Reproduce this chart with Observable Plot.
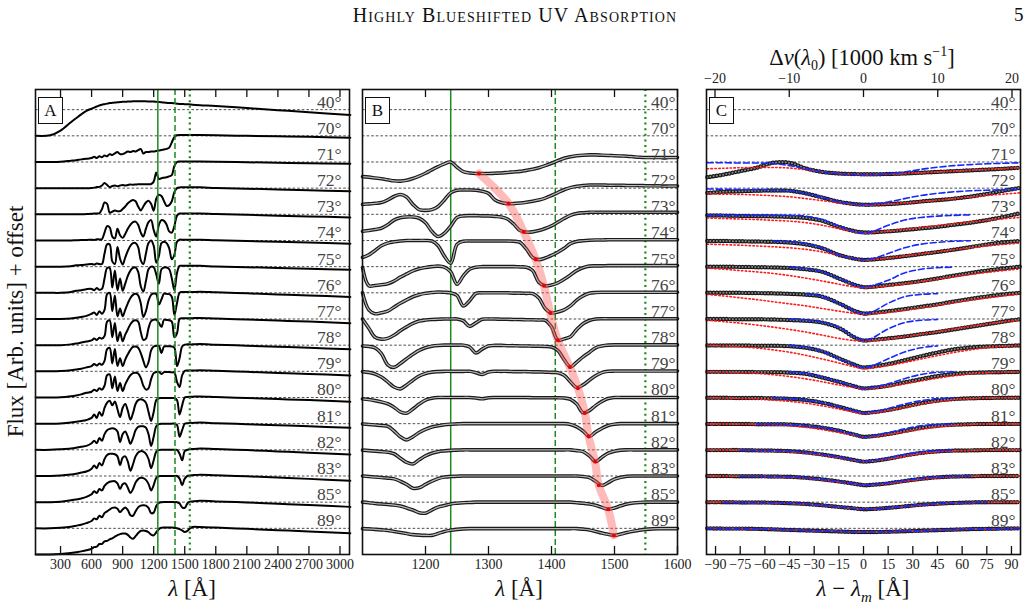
<!DOCTYPE html>
<html>
<head>
<meta charset="utf-8">
<script src="https://cdn.jsdelivr.net/npm/d3@7"></script>
<script src="https://cdn.jsdelivr.net/npm/@observablehq/plot@0.6"></script>
<style>
  body { margin: 0; background: #fff; }
  #fig { position: relative; width: 1030px; height: 612px; overflow: hidden;
         font-family: "Liberation Serif", "DejaVu Serif", serif; color: #111; }
  #fig svg { position: absolute; top: 0; }
  .t { position: absolute; white-space: nowrap; line-height: 1; }
  .box { position: absolute; top: 97px; width: 23px; height: 25px; border: 1.4px solid #111;
         background: #fff; font-size: 17px; line-height: 25px; text-align: center; }
</style>
</head>
<body>
<div id="fig"></div>
<script>
// Viewing angles, one spectrum per angle (top to bottom)
const angles = [40, 70, 71, 72, 73, 74, 75, 76, 77, 78, 79, 80, 81, 82, 83, 85, 89];

// Reference lines: N V, Si IV, C IV rest wavelengths [Å]
const refLam = [1240, 1406, 1549];

// ---- Panel A: full UV spectra, flux normalised to the red continuum ----
const gridA = [60,200,300,400,450,500,550,600,625,650,675,700,725,750,775,800,825,850,875,900,925,950,975,1000,1025,1050,1075,1100,1125,1150,1175,1200,1225,1250,1275,1300,1325,1350,1375,1400,1425,1450,1475,1500,1525,1550,1575,1650,1800,2100,2400,2700,3100];
const specA = [
  [0,0.02,0.2,0.52,0.67,0.82,0.95, 1.04,1.08,1.12,1.16,1.19,1.21,1.23,1.25,1.26,1.27, 1.28,1.29,1.3,1.3,1.31,1.31,1.32,1.32,1.32,1.32, 1.32,1.32,1.31,1.31,1.31,1.3,1.29,1.28,1.27,1.26, 1.25,1.25,1.24,1.23,1.22,1.22,1.21,1.21,1.2,1.19, 1.17,1.14,1.06,0.98,0.9,0.8],
  [0,0,0.01,0.05,0.07,0.1,0.12, 0.15,0.2,0.15,0.22,0.18,0.25,0.22,0.3,0.27,0.33, 0.38,0.3,0.3,0.35,0.4,0.38,0.42,0.4,0.45,0.5, 0.32,0.38,0.38,0.4,0.4,0.42,0.44,0.46,0.48,0.5, 0.55,0.75,0.95,1.02,1.03,1.03,1.03,1.03,1.03,1.03, 1.03,1.02,1.0,0.98,0.96,0.93],
  [0,0,0,0,0,0,0, 0.01,0.02,0.04,0.05,0.1,0.2,0.12,0.04,0.08,0.1, 0.07,0.1,0.12,0.1,0.12,0.14,0.13,0.14,0.15,0.15, 0.15,0.15,0.15,0.16,0.25,0.6,0.35,0.38,0.4,0.42, 0.45,0.5,0.85,1.0,1.02,1.02,1.02,1.02,1.02,1.02, 1.02,1.01,0.99,0.97,0.95,0.93],
  [0,0,0,0,0,0,0.01, 0.02,0.03,0.03,0.04,0.2,0.45,0.4,0.06,0.1,0.15, 0.12,0.12,0.2,0.3,0.42,0.5,0.55,0.5,0.3,0.15, 0.3,0.45,0.52,0.4,0.14,0.6,0.75,0.7,0.5,0.32, 0.35,0.5,0.85,1.0,1.03,1.03,1.03,1.03,1.03,1.03, 1.03,1.01,0.98,0.95,0.92,0.88],
  [0,0,0,0,0.01,0.02,0.02, 0.03,0.02,0.05,0.04,0.05,0.3,0.55,0.5,0.15,0.08, 0.45,0.2,0.1,0.25,0.45,0.6,0.7,0.72,0.6,0.3, 0.15,0.45,0.7,0.78,0.4,0.15,0.6,0.78,0.75,0.6, 0.35,0.3,0.55,0.95,1.03,1.03,1.03,1.03,1.03,1.03, 1.03,1.01,0.98,0.95,0.92,0.88],
  [0,0,0,0.02,0.05,0.06,0.08, 0.1,0.08,0.12,0.1,0.1,0.5,0.85,0.85,0.2,0.1, 0.75,0.3,0.08,0.35,0.6,0.8,0.9,0.9,0.75,0.25, 0.1,0.5,0.9,1.0,0.8,0.15,0.4,0.9,0.95,0.9, 0.7,0.28,0.45,0.95,1.03,1.03,1.03,1.03,1.03,1.03, 1.03,1.01,0.98,0.95,0.92,0.88],
  [0,0,0,0.03,0.08,0.1,0.14, 0.15,0.1,0.18,0.12,0.15,0.55,0.95,0.95,0.2,0.85, 0.1,0.55,0.08,0.35,0.65,0.85,0.95,0.97,0.8,0.25, 0.05,0.45,0.9,1.0,0.98,0.7,0.35,0.9,0.97,0.97, 0.9,0.55,0.1,0.75,1.03,1.03,1.03,1.03,1.03,1.03, 1.03,1.01,0.98,0.95,0.92,0.88],
  [0,0,0,0.02,0.05,0.08,0.12, 0.2,0.25,0.15,0.3,0.2,0.35,0.95,1.0,0.3,0.9, 0.1,0.4,0.1,0.35,0.6,0.8,0.92,0.96,0.9,0.6, 0.08,0.3,0.7,0.92,0.97,0.95,0.55,0.75,0.97,0.96, 0.95,0.85,0.15,0.6,1.0,1.03,1.03,1.03,1.03,1.03, 1.04,1.02,0.98,0.94,0.9,0.84],
  [0,0,0,0.03,0.06,0.1,0.14, 0.18,0.25,0.2,0.28,0.25,0.35,0.9,0.95,0.3,0.85, 0.15,0.5,0.15,0.4,0.6,0.8,0.92,0.95,0.9,0.5, 0.2,0.25,0.65,0.92,0.97,0.97,0.85,0.7,0.97,0.96, 0.95,0.9,0.3,0.45,1.0,1.03,1.03,1.03,1.03,1.03, 1.04,1.02,0.98,0.94,0.9,0.84],
  [0,0,0.01,0.04,0.07,0.1,0.15, 0.2,0.28,0.22,0.3,0.25,0.4,0.85,0.9,0.3,0.85, 0.2,0.5,0.2,0.45,0.65,0.82,0.93,0.95,0.9,0.7, 0.4,0.15,0.35,0.8,0.95,0.97,0.97,0.7,0.95,0.96, 0.96,0.95,0.9,0.2,0.5,0.95,1.02,1.03,1.03,1.03, 1.04,1.02,0.98,0.94,0.9,0.84],
  [0,0,0.01,0.05,0.08,0.12,0.18, 0.22,0.3,0.25,0.35,0.3,0.45,0.85,0.88,0.35,0.8, 0.25,0.55,0.25,0.5,0.7,0.85,0.93,0.95,0.92,0.75, 0.45,0.3,0.35,0.7,0.93,0.97,0.98,0.9,0.97,0.97, 0.97,0.96,0.95,0.6,0.4,0.85,1.02,1.03,1.03,1.03, 1.04,1.02,0.98,0.94,0.9,0.84],
  [0,0,0.01,0.04,0.07,0.1,0.14, 0.22,0.35,0.22,0.45,0.3,0.6,0.8,0.88,0.7,0.85, 0.55,0.25,0.6,0.75,0.5,0.15,0.4,0.75,0.9,0.93, 0.9,0.8,0.45,0.1,0.45,0.9,0.97,0.98,0.98,0.98, 0.98,0.98,0.98,0.9,0.35,0.7,1.0,1.02,1.03,1.03, 1.04,1.02,0.98,0.94,0.9,0.84],
  [0,0,0.02,0.05,0.08,0.12,0.15, 0.25,0.35,0.25,0.45,0.35,0.6,0.75,0.8,0.82,0.8, 0.7,0.3,0.6,0.7,0.5,0.23,0.45,0.75,0.88,0.9, 0.9,0.85,0.6,0.15,0.5,0.9,0.98,1.0,1.0,1.0, 1.0,1.0,1.0,0.95,0.5,0.75,1.0,1.02,1.03,1.03, 1.04,1.02,0.98,0.94,0.9,0.84],
  [0,0,0.02,0.06,0.09,0.13,0.17, 0.28,0.4,0.3,0.5,0.4,0.65,0.8,0.85,0.85,0.83, 0.75,0.42,0.7,0.75,0.55,0.2,0.45,0.75,0.9,0.95, 0.93,0.85,0.65,0.3,0.6,0.93,0.99,1.0,1.0,1.0, 1.0,1.0,1.0,1.0,0.85,0.6,0.95,1.0,1.02,1.03, 1.05,1.03,0.99,0.94,0.89,0.82],
  [0,0,0.02,0.07,0.1,0.14,0.2, 0.3,0.42,0.35,0.5,0.45,0.62,0.72,0.78,0.8,0.8, 0.72,0.5,0.68,0.72,0.55,0.35,0.5,0.75,0.88,0.93, 0.92,0.85,0.7,0.45,0.65,0.93,0.99,1.0,1.0,1.0, 1.0,1.0,1.0,1.0,0.9,0.65,0.9,1.0,1.02,1.03, 1.05,1.03,0.99,0.94,0.89,0.82],
  [0,0,0.02,0.06,0.1,0.14,0.2, 0.28,0.38,0.35,0.48,0.42,0.58,0.65,0.72,0.78,0.8, 0.75,0.62,0.72,0.8,0.7,0.5,0.48,0.65,0.8,0.87, 0.88,0.87,0.78,0.58,0.6,0.85,0.97,1.0,1.01,1.01, 1.01,1.01,1.0,1.0,0.95,0.8,0.78,0.95,1.02,1.03, 1.05,1.03,0.99,0.94,0.89,0.82],
  [0,0,0.02,0.06,0.09,0.12,0.16, 0.22,0.28,0.3,0.4,0.4,0.5,0.52,0.58,0.62,0.68, 0.74,0.78,0.8,0.8,0.75,0.65,0.6,0.7,0.82,0.9, 0.92,0.9,0.85,0.76,0.73,0.85,0.97,1.02,1.03,1.03, 1.03,1.03,1.02,1.0,0.97,0.92,0.86,0.9,1.0,1.05, 1.05,1.03,0.98,0.93,0.88,0.81]
];
const ticksA = [300,600,900,1200,1500,1800,2100,2400,2700,3000];

// ---- Panel B: zoom on the 1100-1600 Å region, 71°-89° ----
const gridB = [1100,1110,1120,1130,1140,1150,1160,1170,1180,1190,1200,1210,1220,1230,1240,1250,1260,1270,1280,1290,1300,1310,1320,1330,1340,1350,1360,1370,1380,1390,1400,1410,1420,1430,1440,1450,1460,1470,1480,1490,1500,1510,1520,1530,1540,1550,1560,1570,1580,1590,1600];
const specB = [
  [0.44,0.42,0.39,0.36,0.32,0.28,0.27,0.3,0.37,0.46, 0.57,0.7,0.82,0.93,1.0,0.8,0.63,0.58,0.56,0.56, 0.56,0.57,0.58,0.6,0.62,0.64,0.68,0.72,0.78,0.86, 0.95,1.05,1.14,1.2,1.24,1.26,1.27,1.27,1.26,1.25, 1.24,1.23,1.22,1.2,1.18,1.17,1.17,1.17,1.17,1.17, 1.17],
  [0.38,0.4,0.42,0.45,0.55,0.68,0.76,0.66,0.38,0.18, 0.15,0.18,0.3,0.55,0.82,0.92,0.93,0.93,0.92,0.88, 0.8,0.56,0.45,0.41,0.41,0.43,0.46,0.5,0.55,0.62, 0.72,0.83,0.94,1.02,1.07,1.1,1.12,1.12,1.12,1.11, 1.11,1.11,1.1,1.1,1.1,1.09,1.09,1.09,1.08,1.08, 1.08],
  [0.35,0.38,0.42,0.47,0.6,0.78,0.87,0.9,0.9,0.85, 0.68,0.35,0.15,0.28,0.55,0.88,0.94,0.95,0.95,0.94, 0.94,0.92,0.9,0.82,0.63,0.38,0.32,0.33,0.38,0.46, 0.56,0.7,0.84,0.96,1.03,1.06,1.08,1.08,1.08,1.08, 1.08,1.08,1.08,1.08,1.08,1.08,1.08,1.08,1.08,1.08, 1.08],
  [0.35,0.45,0.62,0.8,0.9,0.95,0.98,1.0,1.0,1.0, 1.0,0.98,0.8,0.4,0.13,0.85,0.97,0.98,0.98,0.98, 0.98,0.98,0.98,0.98,0.97,0.93,0.68,0.35,0.27,0.33, 0.43,0.55,0.7,0.88,0.96,0.99,1.01,1.02,1.02,1.03, 1.03,1.03,1.03,1.03,1.03,1.03,1.03,1.03,1.03,1.03, 1.03],
  [0.97,0.27,0.28,0.31,0.35,0.45,0.6,0.72,0.84,0.92, 0.97,1.0,1.02,0.98,0.8,0.33,0.65,0.9,0.98,1.0, 1.0,1.0,1.0,1.0,1.0,0.99,0.98,0.85,0.4,0.27, 0.3,0.38,0.52,0.68,0.85,0.96,1.02,1.03,1.03,1.04, 1.04,1.04,1.04,1.04,1.04,1.04,1.04,1.04,1.04,1.04, 1.04],
  [1.0,0.35,0.2,0.24,0.3,0.45,0.6,0.73,0.85,0.93, 0.98,1.01,1.03,1.02,1.0,0.9,0.5,0.7,0.98,1.0, 1.0,1.0,1.0,1.0,0.99,0.99,0.98,0.97,0.8,0.4, 0.23,0.27,0.35,0.5,0.72,0.88,0.98,1.01,1.02,1.02, 1.02,1.02,1.02,1.02,1.02,1.02,1.02,1.02,1.02,1.02, 1.02],
  [1.0,0.65,0.3,0.23,0.26,0.38,0.55,0.7,0.83,0.92, 0.96,0.98,0.99,1.0,1.0,1.0,0.93,0.72,0.85,0.99, 1.0,1.0,0.99,0.99,0.98,0.98,0.97,0.97,0.96,0.95, 0.7,0.19,0.24,0.32,0.6,0.82,0.94,1.0,1.01,1.01, 1.01,1.01,1.01,1.01,1.01,1.01,1.01,1.01,1.01,1.01, 1.01],
  [0.97,0.95,0.9,0.68,0.25,0.15,0.3,0.48,0.65,0.8, 0.9,0.96,0.99,1.0,1.0,1.0,1.0,0.93,0.7,0.85, 0.97,0.99,0.99,0.98,0.98,0.97,0.97,0.96,0.96,0.95, 0.93,0.8,0.45,0.17,0.35,0.55,0.72,0.9,0.97,1.0, 1.01,1.01,1.01,1.01,1.01,1.01,1.01,1.01,1.01,1.01, 1.01],
  [0.99,0.96,0.9,0.78,0.6,0.4,0.33,0.48,0.66,0.82, 0.92,0.97,0.99,1.0,1.0,1.0,1.0,1.0,0.95,0.88, 0.97,1.0,1.0,1.0,0.99,0.99,0.99,0.98,0.98,0.97, 0.96,0.95,0.85,0.6,0.38,0.48,0.66,0.83,0.95,1.0, 1.01,1.01,1.01,1.01,1.01,1.01,1.01,1.01,1.01,1.01, 1.01],
  [0.95,0.92,0.88,0.83,0.76,0.63,0.45,0.4,0.56,0.75, 0.9,0.97,1.0,1.0,1.0,1.0,1.0,1.0,0.98,0.95, 0.99,1.0,1.0,1.0,1.0,1.0,1.0,0.99,0.99,0.99, 0.99,0.99,0.98,0.93,0.75,0.42,0.5,0.69,0.85,0.96, 1.0,1.0,1.0,1.0,1.0,1.0,1.0,1.0,1.0,1.0, 1.0],
  [0.99,0.97,0.95,0.93,0.9,0.72,0.5,0.38,0.5,0.66, 0.78,0.87,0.92,0.96,0.98,0.99,1.0,1.0,1.0,1.0, 1.0,1.0,1.0,1.0,1.0,1.0,1.0,1.0,1.0,1.0, 1.0,1.0,1.0,0.97,0.88,0.72,0.51,0.68,0.82,0.93, 0.98,1.0,1.0,1.0,1.0,1.0,1.0,1.0,1.0,1.0, 1.0],
  [0.99,0.97,0.95,0.93,0.91,0.85,0.68,0.52,0.46,0.62, 0.77,0.87,0.93,0.96,0.98,0.99,1.0,1.0,1.0,1.0, 1.0,1.0,1.0,1.0,1.0,1.0,1.0,1.0,1.0,1.0, 1.0,1.0,1.0,1.0,0.97,0.93,0.77,0.55,0.72,0.87, 0.95,0.99,1.0,1.0,1.0,1.0,1.0,1.0,1.0,1.0, 1.0],
  [1.0,0.98,0.96,0.94,0.92,0.89,0.8,0.68,0.53,0.55, 0.68,0.8,0.9,0.96,0.98,0.99,1.0,1.0,1.0,1.0, 1.0,1.0,1.0,1.0,1.0,1.0,1.0,1.0,1.0,1.0, 1.0,1.0,1.0,1.0,1.0,0.98,0.94,0.8,0.64,0.75, 0.88,0.95,0.99,1.0,1.0,1.0,1.0,1.0,1.0,1.0, 1.0],
  [1.0,0.98,0.95,0.93,0.91,0.89,0.85,0.78,0.7,0.6, 0.58,0.7,0.81,0.87,0.93,0.96,0.98,0.99,1.0,1.0, 1.0,1.0,1.0,1.0,1.0,1.0,1.0,1.0,1.0,1.0, 1.0,1.0,1.0,1.0,0.98,0.96,0.93,0.88,0.8,0.73, 0.78,0.86,0.93,0.97,0.99,1.0,1.0,1.0,1.0,1.0, 1.0],
  [0.99,0.98,0.96,0.94,0.92,0.88,0.84,0.8,0.76,0.74, 0.73,0.73,0.8,0.88,0.93,0.96,0.98,0.99,0.99,0.99, 0.99,0.99,0.99,0.99,0.99,0.99,0.99,0.99,0.99,0.99, 0.99,0.99,0.99,0.99,0.99,0.97,0.94,0.88,0.82,0.77, 0.73,0.78,0.84,0.89,0.93,0.96,0.98,0.99,0.99,0.99, 0.99]
];
// Trough minima λ_m [Å] and their normalised flux, 71°-89°
const troughLam  = [1285,1332,1356,1375,1388,1398,1410,1429,1442,1453,1459,1469,1475,1490,1499];
const troughFlux = [0.56,0.41,0.32,0.27,0.27,0.23,0.19,0.17,0.35,0.41,0.51,0.55,0.65,0.73,0.73];
const ticksB = [1200,1300,1400,1500,1600];

// ---- Panel C: troughs re-centred on λ_m, with two profile fits ----
const gridC = [-95,-85,-75,-65,-55,-45,-35,-25,-15,-5,0,5,15,25,35,45,55,65,75,85,95];
const dataC = [
  [0.42,0.52,0.65,0.78,0.97,0.97,0.75,0.62,0.56,0.54,0.53,0.53,0.54,0.56,0.59,0.62,0.65,0.68,0.71,0.74,0.78],
  [0.82,0.86,0.88,0.9,0.91,0.9,0.8,0.64,0.48,0.39,0.37,0.37,0.39,0.43,0.49,0.54,0.6,0.68,0.78,0.9,1.01],
  [0.96,0.95,0.94,0.93,0.92,0.9,0.86,0.75,0.52,0.35,0.31,0.31,0.35,0.4,0.46,0.52,0.6,0.68,0.78,0.9,1.04],
  [0.98,0.98,0.97,0.96,0.95,0.92,0.85,0.7,0.45,0.3,0.26,0.27,0.33,0.4,0.48,0.56,0.65,0.75,0.85,0.93,0.98],
  [1.0,1.0,0.99,0.98,0.97,0.95,0.9,0.8,0.55,0.3,0.22,0.23,0.3,0.37,0.45,0.55,0.66,0.76,0.85,0.93,1.0],
  [1.0,1.0,1.0,0.99,0.98,0.96,0.93,0.85,0.6,0.3,0.21,0.23,0.3,0.38,0.47,0.56,0.67,0.77,0.86,0.94,1.0],
  [1.0,1.0,0.99,0.99,0.98,0.96,0.93,0.86,0.66,0.28,0.18,0.2,0.26,0.33,0.42,0.5,0.6,0.7,0.8,0.9,0.99],
  [0.99,0.99,0.99,0.98,0.98,0.96,0.9,0.76,0.5,0.24,0.15,0.18,0.28,0.42,0.58,0.72,0.84,0.91,0.95,0.97,0.99],
  [0.98,0.98,0.98,0.97,0.97,0.95,0.9,0.76,0.6,0.42,0.35,0.37,0.45,0.58,0.7,0.82,0.9,0.94,0.96,0.97,0.98],
  [0.99,0.99,0.98,0.98,0.97,0.95,0.9,0.8,0.65,0.48,0.41,0.43,0.52,0.65,0.78,0.88,0.94,0.97,0.98,0.99,0.99],
  [0.99,0.99,0.99,0.98,0.98,0.97,0.92,0.85,0.73,0.57,0.5,0.52,0.6,0.72,0.84,0.92,0.96,0.98,0.99,0.99,0.99],
  [0.99,0.99,0.99,0.98,0.97,0.95,0.9,0.82,0.72,0.6,0.55,0.57,0.66,0.78,0.88,0.94,0.97,0.98,0.99,0.99,0.99],
  [1.0,1.0,0.99,0.99,0.98,0.97,0.93,0.87,0.79,0.7,0.65,0.66,0.72,0.81,0.89,0.95,0.98,0.99,1.0,1.0,1.0],
  [1.0,1.0,0.99,0.99,0.98,0.96,0.93,0.88,0.82,0.76,0.73,0.74,0.78,0.84,0.9,0.94,0.97,0.99,1.0,1.0,1.0],
  [1.0,0.99,0.99,0.98,0.96,0.94,0.92,0.9,0.88,0.86,0.86,0.86,0.87,0.89,0.91,0.93,0.95,0.97,0.98,0.99,1.0]
];
const blueC = [
  [0.97,0.97,0.96,0.96,0.94,0.86,0.74,0.62,0.55,0.52,0.51,0.52,0.55,0.62,0.72,0.8,0.86,0.9,0.93,0.95,0.97],
  [0.97,0.96,0.95,0.94,0.93,0.9,0.8,0.64,0.48,0.39,0.37,0.39,0.47,0.6,0.72,0.8,0.86,0.9,0.92,0.94,0.95],
  [0.96,0.96,0.96,0.96,0.96,0.96,0.93,0.8,0.55,0.33,0.29,0.33,0.58,0.78,0.88,0.93,0.96,0.98,null,null,null],
  [null,null,null,null,0.97,0.95,0.88,0.7,0.45,0.3,0.26,0.3,0.5,0.72,0.86,0.93,0.97,0.99,null,null,null],
  [null,null,null,null,null,0.98,0.92,0.8,0.55,0.3,0.22,0.27,0.48,0.76,0.9,0.96,0.98,null,null,null,null],
  [null,null,null,null,null,null,0.96,0.86,0.6,0.3,0.2,0.26,0.6,0.85,0.94,0.97,null,null,null,null,null],
  [null,null,null,null,null,0.99,0.96,0.88,0.68,0.3,0.18,0.26,0.62,0.86,0.95,0.98,null,null,null,null,null],
  [null,null,null,null,null,0.99,0.92,0.76,0.48,0.24,0.14,0.2,0.48,0.74,0.9,0.97,null,null,null,null,null],
  [null,null,null,null,null,0.98,0.92,0.78,0.6,0.42,0.35,0.38,0.52,0.72,0.88,0.96,0.98,null,null,null,null],
  [null,null,null,null,0.99,0.96,0.9,0.8,0.65,0.48,0.41,0.45,0.58,0.75,0.88,0.96,0.99,null,null,null,null],
  [null,null,null,0.99,0.98,0.96,0.92,0.85,0.73,0.57,0.49,0.53,0.66,0.8,0.92,0.97,0.99,null,null,null,null],
  [null,null,0.99,0.98,0.97,0.95,0.9,0.82,0.72,0.6,0.55,0.58,0.69,0.82,0.92,0.97,0.99,null,null,null,null],
  [null,null,0.99,0.99,0.98,0.97,0.93,0.87,0.79,0.7,0.65,0.67,0.74,0.83,0.91,0.96,0.99,1.0,null,null,null],
  [null,0.99,0.99,0.99,0.98,0.96,0.93,0.88,0.82,0.76,0.73,0.74,0.78,0.84,0.9,0.94,0.97,0.99,1.0,null,null],
  [1.0,0.99,0.99,0.98,0.96,0.94,0.92,0.9,0.88,0.86,0.86,0.86,0.87,0.89,0.91,0.93,0.95,0.97,0.98,0.99,1.0]
];
const redC = [
  [0.74,0.76,0.78,0.79,0.79,0.77,0.7,0.62,0.56,0.51,0.5,0.51,0.53,0.56,0.59,0.62,0.65,0.69,0.72,0.75,0.78],
  [0.78,0.77,0.76,0.74,0.71,0.67,0.6,0.52,0.44,0.37,0.35,0.36,0.39,0.43,0.48,0.54,0.6,0.66,0.72,0.77,0.82],
  [0.86,0.84,0.82,0.8,0.77,0.74,0.68,0.58,0.45,0.32,0.28,0.3,0.36,0.43,0.5,0.57,0.64,0.71,0.77,0.83,0.88],
  [0.86,0.84,0.82,0.79,0.76,0.72,0.66,0.56,0.43,0.3,0.25,0.27,0.33,0.41,0.49,0.57,0.65,0.72,0.79,0.85,0.9],
  [0.94,0.9,0.85,0.8,0.74,0.66,0.56,0.45,0.33,0.22,0.19,0.2,0.26,0.34,0.43,0.52,0.61,0.7,0.78,0.85,0.91],
  [0.94,0.88,0.81,0.74,0.66,0.58,0.5,0.4,0.3,0.21,0.18,0.19,0.25,0.33,0.42,0.52,0.62,0.72,0.8,0.88,0.95],
  [0.95,0.9,0.84,0.77,0.69,0.6,0.5,0.38,0.26,0.17,0.15,0.16,0.23,0.32,0.42,0.52,0.62,0.72,0.81,0.89,0.95],
  [0.99,0.97,0.94,0.89,0.82,0.73,0.61,0.47,0.32,0.16,0.1,0.13,0.22,0.34,0.47,0.6,0.72,0.82,0.9,0.95,0.98],
  [0.98,0.97,0.95,0.92,0.87,0.8,0.71,0.6,0.48,0.37,0.32,0.34,0.42,0.52,0.63,0.74,0.83,0.9,0.94,0.97,0.98],
  [0.99,0.98,0.96,0.94,0.9,0.85,0.78,0.68,0.56,0.43,0.38,0.4,0.5,0.62,0.74,0.84,0.91,0.95,0.98,0.99,0.99],
  [0.99,0.99,0.98,0.97,0.95,0.92,0.86,0.77,0.66,0.54,0.49,0.5,0.58,0.68,0.78,0.87,0.93,0.97,0.99,0.99,0.99],
  [0.99,0.99,0.98,0.97,0.95,0.92,0.87,0.79,0.69,0.59,0.55,0.57,0.65,0.75,0.85,0.92,0.96,0.98,0.99,0.99,0.99],
  [1.0,0.99,0.99,0.98,0.97,0.95,0.91,0.85,0.77,0.69,0.65,0.66,0.71,0.79,0.87,0.93,0.97,0.99,1.0,1.0,1.0],
  [1.0,1.0,0.99,0.98,0.97,0.95,0.92,0.87,0.81,0.76,0.73,0.74,0.78,0.83,0.88,0.93,0.96,0.98,0.99,1.0,1.0],
  [1.0,0.99,0.99,0.98,0.96,0.94,0.92,0.9,0.88,0.86,0.85,0.86,0.87,0.89,0.91,0.93,0.95,0.97,0.98,0.99,1.0]
];
const ticksC = [-90,-75,-60,-45,-30,-15,0,15,30,45,60,75,90];
const velTicks = [-20,-10,0,10,20];          // 1000 km/s
const lambda0 = 1354;                        // Å, reference wavelength for Δv
const cKms = 299.792458;                     // speed of light in 1000 km/s

// ---------------------------------------------------------------------
const FONT = "Liberation Serif, DejaVu Serif, serif";
const GREEN = "#1d8a1d";
const TOP = 89, BOTTOM = 58, H = 612, FRAME_H = H - TOP - BOTTOM;
const yDomain = [0, 17.77];
const levels = angles.map((a, i) => 17 - i);   // dashed continuum level of each spectrum
const minus = d => (d < 0 ? "\u2212" + (-d) : String(d));

// Long-format rows: y = zero level of the spectrum + flux
function rows(grid, specs, first) {
  const out = [];
  specs.forEach((s, k) => {
    const i = k + first;
    s.forEach((f, j) => out.push({angle: angles[i], x: grid[j], y: f == null ? null : 16 - i + f}));
  });
  return out;
}

const common = (extra) => [
  Plot.ruleY(levels, {y: d => d, stroke: "#222", strokeWidth: 0.8, strokeDasharray: "2.6,2"}),
  ...extra
];
const ticks = (bottom, top) => [
  Plot.ruleX(bottom, {x: d => d, insetTop: FRAME_H - 8, stroke: "#111", strokeWidth: 1.3}),
  Plot.ruleX(top, {x: d => d, insetBottom: FRAME_H - 8, stroke: "#111", strokeWidth: 1.3})
];
const angleLabels = (dx) => Plot.text(angles, {
  y: (d, i) => 17 - i, frameAnchor: "right", text: d => d + "°",
  textAnchor: "end", lineAnchor: "bottom", dx, dy: -2, fontSize: 17.5, fill: "#444"
});
const refRules = () => [
  Plot.ruleX([refLam[0]], {stroke: GREEN, strokeWidth: 1.5}),
  Plot.ruleX([refLam[1]], {stroke: GREEN, strokeWidth: 1.5, strokeDasharray: "6,3"}),
  Plot.ruleX([refLam[2]], {stroke: GREEN, strokeWidth: 2.2, strokeDasharray: "2,3.6"})
];
const bottomAxis = (t) => Plot.axisX({anchor: "bottom", ticks: t, tickSize: 0, tickPadding: 5, tickFormat: minus, fontSize: 14, fill: "#222", label: null});

const fig = document.getElementById("fig");
function panel(left, width, ml, mr, xdomain, marks) {
  const svg = Plot.plot({
    width, height: H, marginLeft: ml, marginRight: mr, marginTop: TOP, marginBottom: BOTTOM,
    x: {domain: xdomain}, y: {domain: yDomain, axis: null},
    style: {background: "transparent", fontFamily: FONT, overflow: "visible"},
    marks
  });
  svg.style.left = left + "px";
  fig.appendChild(svg);
}

// Panel A
panel(0, 360, 35, 11, [58, 3092], common([
  Plot.line(rows(gridA, specA, 0), {x: "x", y: "y", z: "angle", stroke: "#000", strokeWidth: 2, curve: "catmull-rom"}),
  ...refRules(),
  angleLabels(-8),
  ...ticks(ticksA, ticksA),
  bottomAxis(ticksA),
  Plot.frame({stroke: "#111", strokeWidth: 1.6})
]));

// Panel B
const bandPts = troughLam.map((l, k) => ({x: l, y: 16 - (k + 2) + troughFlux[k]}));
const rowsB = rows(gridB, specB, 2);
panel(355, 335, 7, 13, [1100, 1600], common([
  ...refRules(),
  Plot.line(rowsB, {x: "x", y: "y", z: "angle", stroke: "#1a1a1a", strokeWidth: 3.6, curve: "catmull-rom"}),
  Plot.line(rowsB, {x: "x", y: "y", z: "angle", stroke: "#b8b8b8", strokeWidth: 1.2, curve: "catmull-rom"}),
  Plot.line(bandPts, {x: "x", y: "y", stroke: "#ff5a5a", strokeOpacity: 0.42, strokeWidth: 8, curve: "catmull-rom"}),
  Plot.dot(bandPts, {x: "x", y: "y", r: 2, fill: "#e00", stroke: "none"}),
  angleLabels(-2),
  ...ticks(ticksB, ticksB),
  bottomAxis(ticksB),
  Plot.frame({stroke: "#111", strokeWidth: 1.6})
]));

// Panel C
const perV = lambda0 / cKms;   // Å per 1000 km/s
const velX = velTicks.map(v => v * perV);
const rowsCd = rows(gridC, dataC, 2);
panel(695, 335, 11, 10, [-95.5, 95.5], common([
  Plot.line(rowsCd, {x: "x", y: "y", z: "angle", stroke: "#1a1a1a", strokeWidth: 4.4, strokeDasharray: "0,3.2", strokeLinecap: "round", curve: "catmull-rom"}),
  Plot.line(rowsCd, {x: "x", y: "y", z: "angle", stroke: "#8a8a8a", strokeWidth: 2, strokeDasharray: "0,3.2", strokeLinecap: "round", curve: "catmull-rom"}),
  Plot.line(rows(gridC, redC, 2), {x: "x", y: "y", z: "angle", stroke: "#ff1a1a", strokeWidth: 1.6, strokeDasharray: "1.4,2.4", curve: "catmull-rom"}),
  Plot.line(rows(gridC, blueC, 2), {x: "x", y: "y", z: "angle", stroke: "#1428ff", strokeWidth: 1.6, strokeDasharray: "6,3", curve: "catmull-rom"}),
  angleLabels(-5),
  ...ticks(ticksC, velX),
  bottomAxis(ticksC),
  Plot.axisX({anchor: "top", ticks: velX, tickSize: 0, tickPadding: 7, tickFormat: d => minus(Math.round(d / perV)), fontSize: 14, fill: "#222", label: null}),
  Plot.frame({stroke: "#111", strokeWidth: 1.6})
]));

// Text: header, axis titles and panel tags
const html = `
  <div class="t" style="left:0;width:1030px;top:5px;text-align:center;font-size:20px;font-variant:small-caps;letter-spacing:1.1px">Highly Blueshifted UV Absorption</div>
  <div class="t" style="left:1014px;top:5px;font-size:19px">5</div>
  <div class="t" style="left:742px;width:240px;top:45px;text-align:center;font-size:22.5px">&Delta;<i>v</i>(<i>&lambda;</i><sub style="font-size:14px">0</sub>) [1000 km s<sup style="font-size:14px">&minus;1</sup>]</div>
  <div class="t" style="left:-135px;width:300px;top:310px;text-align:center;font-size:23px;transform:rotate(-90deg)">Flux [Arb. units] + offset</div>
  <div class="t" style="left:142px;width:100px;top:577px;text-align:center;font-size:23px"><i>&lambda;</i> [&Aring;]</div>
  <div class="t" style="left:469px;width:100px;top:577px;text-align:center;font-size:23px"><i>&lambda;</i> [&Aring;]</div>
  <div class="t" style="left:783px;width:160px;top:577px;text-align:center;font-size:23px"><i>&lambda;</i> &minus; <i>&lambda;<sub style="font-size:15px">m</sub></i> [&Aring;]</div>
  <div class="box" style="left:38px">A</div>
  <div class="box" style="left:365px">B</div>
  <div class="box" style="left:709px">C</div>`;
fig.insertAdjacentHTML("beforeend", html);
</script>
</body>
</html>
